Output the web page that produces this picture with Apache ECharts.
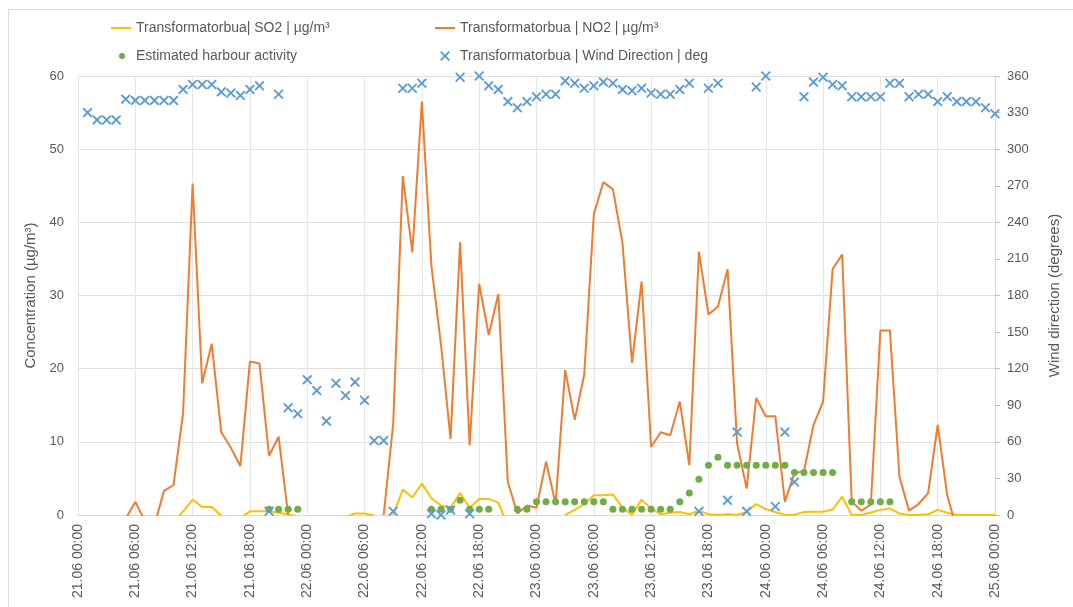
<!DOCTYPE html>
<html><head><meta charset="utf-8">
<script src="https://cdn.jsdelivr.net/npm/echarts@6/dist/echarts.min.js"></script>
<style>html,body{margin:0;padding:0;background:#fff}#c{width:1073px;height:607px}</style>
</head><body><div id="c"></div>
<script>
// hourly categories 21.06 00:00 .. 25.06 00:00
const days = ['21.06', '22.06', '23.06', '24.06', '25.06'];
const categories = [];
for (let h = 0; h <= 96; h++) {
  categories.push(days[Math.floor(h / 24)] + ' ' + String(h % 24).padStart(2, '0') + ':00');
}

const seriesNames = [
  'Transformatorbua| SO2 | µg/m³',
  'Transformatorbua | NO2 | µg/m³',
  'Estimated harbour activity',
  'Transformatorbua | Wind Direction | deg'
];

// SO2 (µg/m³), index = hour from 21.06 00:00; negative = below axis (clipped)
const so2 = [
  null, null, null, null, null, null, null, null, null, null,
  -1, 0.5, 2.1, 1.1, 1.1, -0.1, null, -0.4, 0.5, 0.5,
  0.5, 0.3, 0.1, -0.3, null, null, null, null, -0.3, 0.2,
  0.2, -0.05, null, 0, 3.5, 2.4, 4.3, 2.3, 1.3, 1.0,
  3.0, 1.0, 2.2, 2.2, 1.7, -1.5, null, null, null, null,
  null, 0, 0.7, 1.5, 2.7, 2.7, 2.8, 1.0, 0.05, 2.1,
  0.9, 0.1, 0.3, 0.4, 0.1, 0.6, 0.1, 0, 0.1, 0,
  0.4, 1.5, 0.8, 0.4, 0, 0.05, 0.4, 0.45, 0.45, 0.75,
  2.5, 0, 0, 0.35, 0.7, 0.9, 0.2, 0, 0, 0.1,
  0.7, 0.3, 0, 0, 0, 0, 0
];

// NO2 (µg/m³)
const no2 = [
  null, null, null, null, null, -0.5, 1.8, -0.8, -1.4, 3.3,
  4.1, 13.9, 45.3, 18.0, 23.4, 11.3, 9.2, 6.7, 21.0, 20.7,
  8.1, 10.7, 0, null, null, null, null, null, null, null,
  null, null, 0, 12.5, 46.3, 35.9, 56.5, 34.0, 23.3, 10.4,
  37.3, 9.5, 31.6, 24.6, 30.2, 4.5, 0.2, 1.3, 1.0, 7.3,
  1.5, 19.8, 13.0, 19.2, 41.1, 45.5, 44.5, 37.2, 20.8, 31.9,
  9.3, 11.3, 10.9, 15.5, 6.8, 36.0, 27.4, 28.5, 33.6, 9.8,
  3.6, 16.0, 13.5, 13.5, 1.8, 5.7, 6.0, 12.3, 15.5, 33.6,
  35.6, 1.8, 0.6, 1.4, 25.2, 25.2, 5.2, 0.6, 1.5, 3.0,
  12.3, 2.7, -2, null, null, null, null
];

// Estimated harbour activity (left axis)
const harbour = [
  null, null, null, null, null, null, null, null, null, null,
  null, null, null, null, null, null, null, null, null, null,
  0.8, 0.8, 0.8, 0.8, null, null, null, null, null, null,
  null, null, null, null, null, null, null, 0.8, 0.8, 0.8,
  2.0, 0.8, 0.8, 0.8, null, null, 0.8, 0.8, 1.8, 1.8,
  1.8, 1.8, 1.8, 1.8, 1.8, 1.8, 0.8, 0.8, 0.8, 0.8,
  0.8, 0.8, 0.8, 1.8, 3.0, 4.9, 6.8, 7.9, 6.8, 6.8,
  6.8, 6.8, 6.8, 6.8, 6.8, 5.8, 5.8, 5.8, 5.8, 5.8,
  null, 1.8, 1.8, 1.8, 1.8, 1.8, null, null, null, null,
  null, null, null, null, null, null, null
];

// Wind direction (deg, right axis)
const wind = [
  null, 330, 324, 324, 324, 341, 340, 340, 340, 340,
  340, 349, 353, 353, 353, 347, 346, 344, 349, 352,
  3, 345, 88, 83, 111, 102, 77, 108, 98, 109,
  94, 61, 61, 3, 350, 350, 354, 1, 0, 4,
  359, 1, 360, 352, 349, 339, 334, 339, 343, 345,
  345, 356, 354, 350, 352, 355, 354, 349, 348, 350,
  346, 345, 345, 349, 354, 3, 350, 354, 12, 68,
  3, 351, 360, 7, 68, 27, 343, 355, 359, 353,
  352, 343, 343, 343, 343, 354, 354, 343, 345, 345,
  339, 343, 339, 339, 339, 334, 329
];

const leftTicks = { min: 0, max: 60, interval: 10 };
const rightTicks = { min: 0, max: 360, interval: 30 };

const FONT = 'Liberation Sans';
const GREY = '#595959';
const xMark = 'path://M0,1.3L1.3,0L5,3.7L8.7,0L10,1.3L6.3,5L10,8.7L8.7,10L5,6.3L1.3,10L0,8.7L3.7,5Z';

const chart = echarts.init(document.getElementById('c'), null, { renderer: 'canvas' });
const legendText = { color: GREY, fontSize: 14, fontFamily: FONT };
chart.setOption({
  animation: false,
  backgroundColor: '#fff',
  graphic: [{
    type: 'rect', shape: { x: 8.5, y: 9.5, width: 1080, height: 620 },
    style: { fill: 'none', stroke: '#d9d9d9', lineWidth: 1 }, silent: true
  }],
  legend: [
    { data: [{ name: seriesNames[0], icon: 'rect' }], left: 106, top: 16, itemWidth: 20, itemHeight: 2, textStyle: legendText },
    { data: [{ name: seriesNames[1], icon: 'rect' }], left: 430, top: 16, itemWidth: 20, itemHeight: 2, textStyle: legendText },
    { data: [{ name: seriesNames[2], icon: 'circle' }], left: 114, top: 44, itemWidth: 6, itemHeight: 6, textStyle: Object.assign({ padding: [0, 0, 0, 6] }, legendText) },
    { data: [{ name: seriesNames[3], icon: xMark }], left: 435, top: 44, itemWidth: 10, itemHeight: 10, textStyle: Object.assign({ padding: [0, 0, 0, 5] }, legendText) }
  ],
  grid: { left: 78, right: 78, top: 76, bottom: 92 },
  xAxis: {
    type: 'category', data: categories, boundaryGap: false,
    axisLine: { lineStyle: { color: '#d9d9d9' } },
    axisTick: { show: false },
    axisLabel: { interval: 5, rotate: 90, color: GREY, fontSize: 14, fontFamily: FONT, margin: 9 },
    splitLine: { show: true, interval: 5, lineStyle: { color: '#e6e6e6' } }
  },
  yAxis: [{
    type: 'value', min: leftTicks.min, max: leftTicks.max, interval: leftTicks.interval,
    name: 'Concentration (µg/m³)', nameLocation: 'middle', nameGap: 38, nameRotate: 90,
    nameTextStyle: { color: GREY, fontSize: 15, fontFamily: FONT },
    axisLine: { show: false }, axisTick: { show: false },
    axisLabel: { color: GREY, fontSize: 13, fontFamily: FONT, margin: 14 },
    splitLine: { lineStyle: { color: '#dedede' } }
  }, {
    type: 'value', position: 'right', min: rightTicks.min, max: rightTicks.max, interval: rightTicks.interval,
    name: 'Wind direction (degrees)', nameLocation: 'middle', nameGap: 52, nameRotate: 90,
    nameTextStyle: { color: GREY, fontSize: 15, fontFamily: FONT },
    axisLine: { show: true, lineStyle: { color: '#d9d9d9' } },
    axisTick: { show: true, length: 5, lineStyle: { color: '#bfbfbf' } },
    axisLabel: { color: GREY, fontSize: 13, fontFamily: FONT, margin: 12 },
    splitLine: { show: false }
  }],
  series: [
    { name: seriesNames[0], type: 'line', yAxisIndex: 0, data: so2, symbol: 'none',
      lineStyle: { color: '#FFC000', width: 2 }, itemStyle: { color: '#FFC000' }, clip: true, z: 2 },
    { name: seriesNames[1], type: 'line', yAxisIndex: 0, data: no2, symbol: 'none',
      lineStyle: { color: '#ED7D31', width: 2 }, itemStyle: { color: '#ED7D31' }, clip: true, z: 3 },
    { name: seriesNames[2], type: 'scatter', yAxisIndex: 0, data: harbour, symbol: 'circle', symbolSize: 7,
      itemStyle: { color: '#70AD47', opacity: 1 }, z: 4 },
    { name: seriesNames[3], type: 'scatter', yAxisIndex: 1, data: wind, symbol: xMark, symbolSize: 10,
      itemStyle: { color: '#5B9BD5', opacity: 1 }, z: 5 }
  ]
});
</script>
</body></html>
